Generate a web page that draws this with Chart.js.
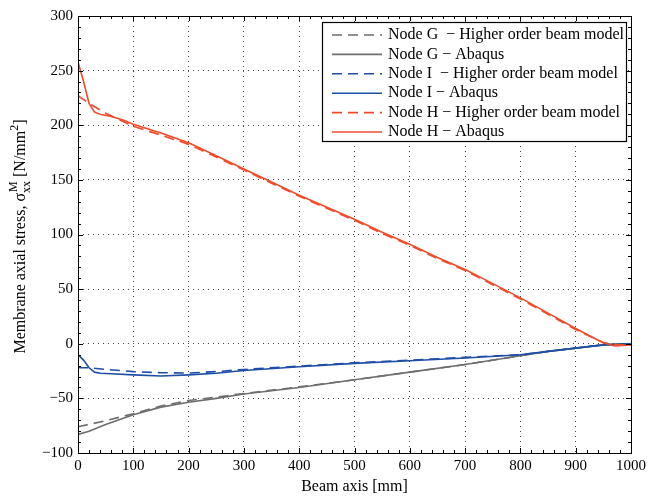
<!DOCTYPE html>
<html>
<head>
<meta charset="utf-8">
<script src="https://cdn.jsdelivr.net/npm/chart.js@4.4.1/dist/chart.umd.min.js"></script>
<style>
html,body{margin:0;padding:0;background:#fff;}
#wrap{width:650px;height:496px;}
</style>
</head>
<body>
<div id="wrap"><canvas id="c" width="650" height="496"></canvas></div>
<script>
// ---- data ----
const xTicks = [0,100,200,300,400,500,600,700,800,900,1000];
const yTicks = [-100,-50,0,50,100,150,200,250,300];

const gHobmX = [0,50,100,150,200,300,400,500,600,700,800,850,900,950,1000];
const gHobmY = [-76,-70.5,-64,-57,-52,-45.5,-39.5,-33,-26,-19,-11,-7,-4,-1,0];
const gAbqX  = [0,20,50,100,150,200,250,300,400,500,600,700,800,850,900,950,1000];
const gAbqY  = [-83,-80,-74,-65,-58,-53.5,-50,-46,-40,-33,-26,-19,-11,-7,-4,-1,0];

const iHobmX = [0,20,50,100,150,200,250,300,400,500,600,700,800,850,900,950,1000];
const iHobmY = [-22,-22,-23.5,-25.5,-26.5,-26.8,-25.5,-23.5,-20.5,-17.5,-15,-12.5,-10,-7,-4,-1,0];
const iAbqX  = [0,10,20,30,40,60,100,150,200,250,300,400,500,600,700,800,850,900,950,1000];
const iAbqY  = [-10,-15,-22,-26,-27,-27.5,-28.5,-29.5,-28.5,-27,-24.5,-21,-18,-15.5,-13,-10,-7,-4,-1,0];

const hHobmX = [0,20,50,100,150,200,250,300,350,400,450,500,550,600,650,700,750,800,850,900,950,975,1000];
const hHobmY = [227,220,211,199,191,182.5,171,159,147,135,124,113,101,90,78,67,54,41,27,13,1,-1,-1];
const hAbqX  = [0,10,20,30,40,60,80,100,150,200,250,300,350,400,450,500,550,600,650,700,750,800,850,900,930,950,970,1000];
const hAbqY  = [258,240,220,212,210,208,205,201,193,184,172,160,148,136,125,114,102,91,79,68,55,42,28,14,6,1,-2,-1];

const seriesLabels = [
  "Node G  \u2212 Higher order beam model",
  "Node G \u2212 Abaqus",
  "Node I  \u2212 Higher order beam model",
  "Node I \u2212 Abaqus",
  "Node H \u2212 Higher order beam model",
  "Node H \u2212 Abaqus"
];

const GRAY = "#6e6e6e", BLUE = "#1f4ea6", RED = "#f04b2b";
const FONT = "'Liberation Serif','Times New Roman',serif";
const DASH = [10,6];

function pts(xs, ys){ return xs.map((x,i)=>({x:x,y:ys[i]})); }

function ds(label, xs, ys, color, dashed){
  return {label:label, data:pts(xs,ys), borderColor:color, backgroundColor:color,
    borderWidth:1.6, borderDash: dashed?DASH:[], pointRadius:0, tension:0, fill:false};
}

const datasets = [
  ds(seriesLabels[0], gHobmX, gHobmY, GRAY, true),
  ds(seriesLabels[1], gAbqX, gAbqY, GRAY, false),
  ds(seriesLabels[2], iHobmX, iHobmY, BLUE, true),
  ds(seriesLabels[3], iAbqX, iAbqY, BLUE, false),
  ds(seriesLabels[4], hHobmX, hHobmY, RED, true),
  ds(seriesLabels[5], hAbqX, hAbqY, RED, false)
];
datasets.forEach((d,i)=>{ d.order = datasets.length - i; });

const boxPlugin = {
  id:'boxPlugin',
  afterDraw(chart){
    const ctx = chart.ctx, a = chart.chartArea;
    const xs = chart.scales.x, ys = chart.scales.y;
    ctx.save();
    ctx.strokeStyle = '#000'; ctx.lineWidth = 1;
    ctx.setLineDash([]);
    ctx.strokeRect(Math.round(a.left)+0.5, Math.round(a.top)+0.5, Math.round(a.right-a.left), Math.round(a.bottom-a.top));
    ctx.beginPath();
    for(let v=0; v<=1000; v+=20){
      const px = Math.round(xs.getPixelForValue(v))+0.5;
      const L = (v%100===0)?5:3;
      ctx.moveTo(px,a.bottom); ctx.lineTo(px,a.bottom-L);
      ctx.moveTo(px,a.top); ctx.lineTo(px,a.top+L);
    }
    for(let v=-100; v<=300; v+=10){
      const py = Math.round(ys.getPixelForValue(v))+0.5;
      const L = (v%50===0)?5:3;
      ctx.moveTo(a.left,py); ctx.lineTo(a.left+L,py);
      ctx.moveTo(a.right,py); ctx.lineTo(a.right-L,py);
    }
    ctx.stroke();

    // legend
    const lx = 322, ly = 22, lw = 304, lh = 119;
    ctx.fillStyle = '#fff';
    ctx.fillRect(lx, ly, lw, lh);
    ctx.strokeStyle = '#000'; ctx.lineWidth = 1.2;
    ctx.strokeRect(lx+0.5, ly+0.5, lw, lh);
    ctx.font = "16px " + FONT;
    ctx.textBaseline = 'middle';
    ctx.textAlign = 'left';
    chart.data.datasets.forEach((d,i)=>{
      const y = ly + 13 + i*19.4;
      ctx.strokeStyle = d.borderColor; ctx.lineWidth = 1.6;
      ctx.setLineDash(d.borderDash);
      ctx.beginPath(); ctx.moveTo(lx+10, y); ctx.lineTo(lx+60, y); ctx.stroke();
      ctx.setLineDash([]);
      ctx.fillStyle = '#000';
      ctx.fillText(d.label, lx+66, y);
    });

    // y title
    const cx = 20, cy = (a.top + a.bottom)/2 + 2;
    const big = "16px " + FONT, small = "12px " + FONT;
    const segs = [
      {t:"Membrane axial stress, \u03C3", f:big, dy:0},
      {t:"xx", f:small, dy:5, stackM:true},
      {t:" [N/mm", f:big, dy:0},
      {t:"2", f:small, dy:-7},
      {t:"]", f:big, dy:0}
    ];
    let total = 0;
    segs.forEach(s=>{ ctx.font = s.f; s.w = ctx.measureText(s.t).width; total += s.w; });
    ctx.translate(cx, cy);
    ctx.rotate(-Math.PI/2);
    ctx.fillStyle = '#000';
    ctx.textBaseline = 'alphabetic';
    let x = -total/2;
    segs.forEach(s=>{
      ctx.font = s.f;
      ctx.fillText(s.t, x, 5 + s.dy);
      if(s.stackM){ ctx.fillText("M", x+1, 5 - 8); }
      x += s.w;
    });
    ctx.restore();
  }
};

const fmt = v => (v<0? "\u2212"+Math.abs(v) : String(v));

new Chart(document.getElementById('c'), {
  type:'line',
  data:{datasets:datasets},
  options:{
    responsive:false, animation:false, maintainAspectRatio:false,
    layout:{padding:{top:16,right:17,left:0,bottom:0}},
    plugins:{legend:{display:false}, tooltip:{enabled:false}},
    scales:{
      x:{type:'linear', min:0, max:1000,
        afterBuildTicks(s){ s.ticks = xTicks.map(v=>({value:v})); },
        afterFit(s){ s.height = 43; },
        ticks:{callback:fmt, color:'#000', font:{family:FONT, size:15}, padding:4, maxRotation:0},
        grid:{color:'#444', lineWidth:1, drawTicks:false},
        border:{display:false, dash:[1,4]},
        title:{display:true, text:'Beam axis [mm]', color:'#000', font:{family:FONT, size:16}, padding:{top:0,bottom:0}}
      },
      y:{type:'linear', min:-100, max:300,
        afterBuildTicks(s){ s.ticks = yTicks.map(v=>({value:v})); },
        afterFit(s){ s.width = 78; },
        ticks:{callback:fmt, color:'#000', font:{family:FONT, size:15}, padding:5},
        grid:{color:'#444', lineWidth:1, drawTicks:false},
        border:{display:false, dash:[1,4]}
      }
    }
  },
  plugins:[boxPlugin]
});
</script>
</body>
</html>
